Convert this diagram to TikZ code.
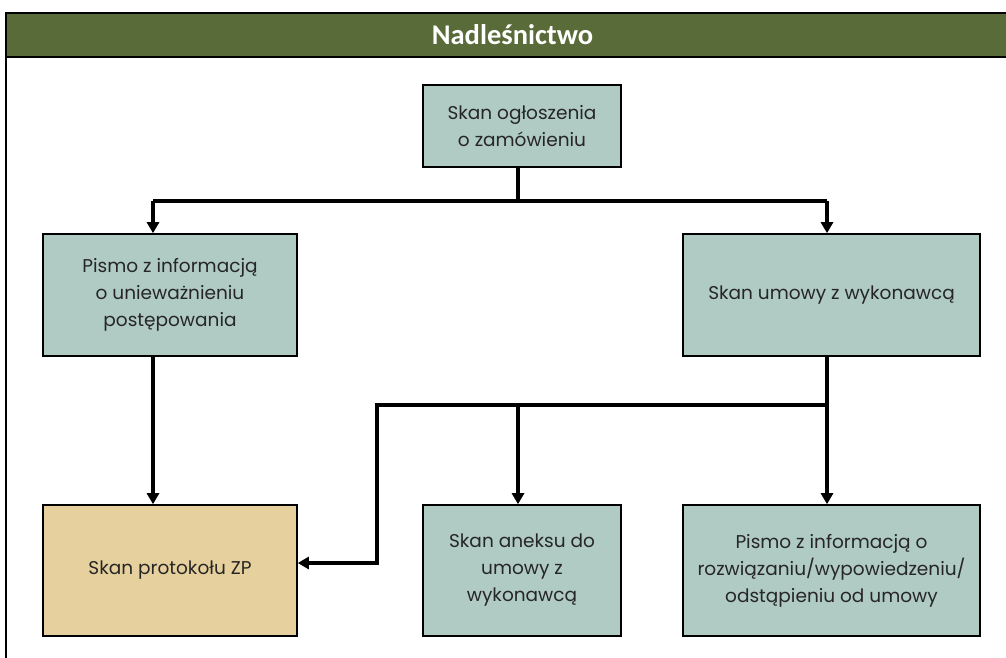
\documentclass[tikz,border=0pt]{standalone}
\usepackage{fontspec}
\setmainfont{Poppins}
\newfontfamily\headfont{Carlito}
\usetikzlibrary{arrows.meta}
\definecolor{olive}{HTML}{5A6B3A}
\definecolor{teal}{HTML}{B0CAC4}
\definecolor{tan}{HTML}{E6D09E}
\tikzset{
  x=1pt, y=-1pt,
  box/.style={draw=black, line width=1.6pt, fill=teal, inner sep=0pt, align=center,
    font=\fontsize{18.5}{27}\selectfont, text=black!85},
  tanbox/.style={box, fill=tan},
  conn/.style={line width=3.6pt, draw=black},
  arr/.style={conn, -{Triangle[length=11pt,width=12pt]}},
}
\begin{document}
\begin{tikzpicture}
\useasboundingbox (0,0) rectangle (1006,658);
% frame
\fill[olive] (6,13) rectangle (1006,57);
\draw[line width=2pt] (1006,13) -- (6,13) -- (6,658);
\draw[line width=2pt] (6,57) -- (1006,57);
\node[font=\headfont\bfseries\fontsize{28.5}{30}\selectfont, text=white] (title) at (512.5,35) {Nadleśnictwo};
% boxes
\node[box, minimum width=198pt, minimum height=82pt] (top) at (522,126) {Skan ogłoszenia\\o zamówieniu};
\node[box, minimum width=254pt, minimum height=122pt] (lm) at (170,295) {Pismo z informacją\\o unieważnieniu\\postępowania};
\node[box, minimum width=297pt, minimum height=122pt] (rm) at (831.5,295) {Skan umowy z wykonawcą};
\node[tanbox, minimum width=254pt, minimum height=131pt] (bl) at (170,570.5) {Skan protokołu ZP};
\node[box, minimum width=198pt, minimum height=131pt] (bm) at (522,570.5) {Skan aneksu do\\umowy z\\wykonawcą};
\node[box, minimum width=297pt, minimum height=131pt] (br) at (831.5,570.5) {Pismo z informacją o\\rozwiązaniu/wypowiedzeniu/\\odstąpieniu od umowy};
% junction coordinates
\coordinate (j1) at (518,201);
\coordinate (j2) at (827,405);
% connectors
\draw[conn] (top.south -| j1) -- (j1);
\draw[arr] (153,201) -| (lm.north -| 153,0);
\draw[arr] (827,201) -- (rm.north -| 827,0);
\draw[conn] (153,201) -- (827,201);
\draw[arr] (lm.south -| 153,0) -- (bl.north -| 153,0);
\draw[arr] (rm.south -| j2) -- (br.north -| j2);
\draw[conn] (j2) -- (377,405) -- (377,563) -- ++(-2,0);
\draw[arr] (379,563) -- (bl.east |- 0,563);
\draw[arr] (518,405) -- (bm.north -| 518,0);
\end{tikzpicture}
\end{document}
